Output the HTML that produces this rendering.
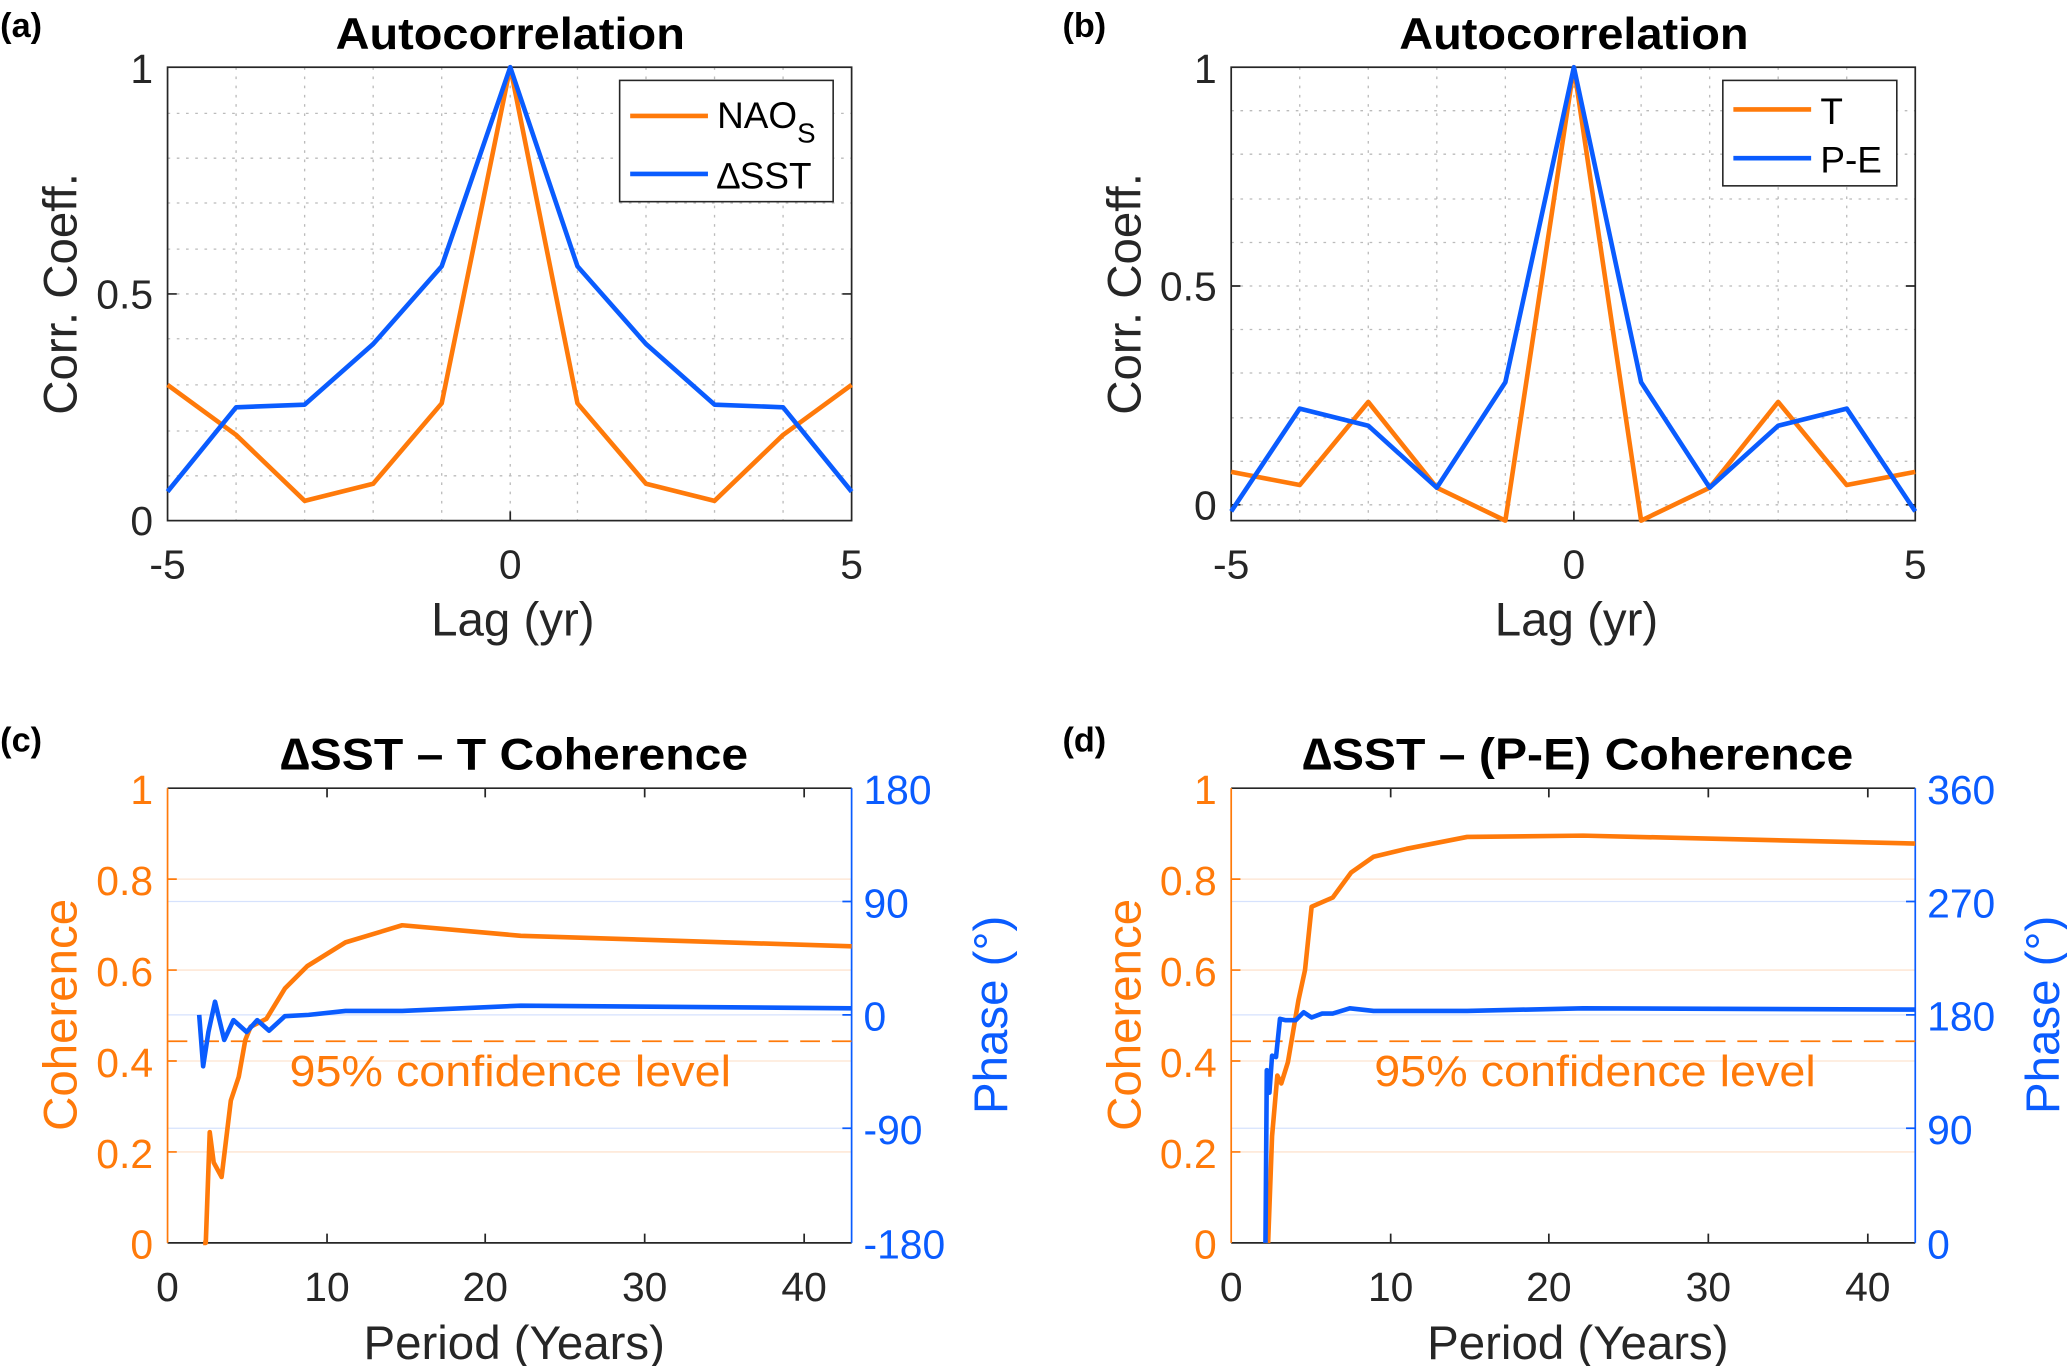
<!DOCTYPE html>
<html><head><meta charset="utf-8"><style>html,body{margin:0;padding:0;background:#fff}svg{display:block}</style></head>
<body>
<svg width="2067" height="1366" viewBox="0 0 1568 1036.4" xmlns="http://www.w3.org/2000/svg" font-family="Liberation Sans, Arial, sans-serif">
<rect width="1568" height="1037" fill="#fff"/>
<!-- ===== Panel (a) ===== -->
<text x="0" y="28" font-size="26" font-weight="bold">(a)</text>
<text x="387" y="37" font-size="34" font-weight="bold" text-anchor="middle" textLength="265" lengthAdjust="spacingAndGlyphs">Autocorrelation</text>
<g stroke="#bbb" stroke-width="1" stroke-dasharray="2,5">
<path d="M179 51V395M231 51V395M283 51V395M335 51V395M387 51V395M438 51V395M490 51V395M542 51V395M594 51V395"/>
<path d="M127 361H646M127 327H646M127 292H646M127 257H646M127 223H646M127 189H646M127 154H646M127 120H646M127 86H646"/>
</g>
<rect x="127" y="51" width="519" height="344" fill="none" stroke="#262626" stroke-width="1.3"/>
<path d="M387 395v-7M387 51v7M127 223h7M646 223h-7" stroke="#262626" stroke-width="1.3"/>
<g font-size="31" fill="#262626">
<text x="127" y="439" text-anchor="middle">-5</text><text x="387" y="439" text-anchor="middle">0</text><text x="646" y="439" text-anchor="middle">5</text>
<text x="116" y="63" text-anchor="end">1</text><text x="116" y="234" text-anchor="end">0.5</text><text x="116" y="406" text-anchor="end">0</text>
</g>
<text x="389" y="482" font-size="36" fill="#262626" text-anchor="middle">Lag (yr)</text>
<text transform="translate(58,223) rotate(-90)" font-size="36" fill="#262626" text-anchor="middle">Corr. Coeff.</text>
<polyline fill="none" stroke="#FF7A0A" stroke-width="3.5" stroke-linejoin="round" points="127,292 179,330 231,380 283,367 335,306 387,51 438,306 490,367 542,380 594,330 646,292"/>
<polyline fill="none" stroke="#0A5CFF" stroke-width="3.5" stroke-linejoin="round" points="127,373 179,309 231,307 283,261 335,202 387,51 438,202 490,261 542,307 594,309 646,373"/>
<rect x="470" y="61" width="162" height="92" fill="#fff" stroke="#262626" stroke-width="1.2"/>
<path d="M478 88h59" stroke="#FF7A0A" stroke-width="3.5"/><path d="M478 132h59" stroke="#0A5CFF" stroke-width="3.5"/>
<text x="544" y="97" font-size="28">NAO<tspan font-size="21" dy="11">S</tspan></text>
<text x="544" y="143" font-size="28">∆SST</text>

<!-- ===== Panel (b) ===== -->
<text x="806" y="28" font-size="26" font-weight="bold">(b)</text>
<text x="1194" y="37" font-size="34" font-weight="bold" text-anchor="middle" textLength="265" lengthAdjust="spacingAndGlyphs">Autocorrelation</text>
<g stroke="#bbb" stroke-width="1" stroke-dasharray="2,5">
<path d="M986 51V395M1038 51V395M1090 51V395M1142 51V395M1194 51V395M1245 51V395M1297 51V395M1349 51V395M1401 51V395"/>
<path d="M934 383H1453M934 350H1453M934 317H1453M934 283H1453M934 250H1453M934 217H1453M934 184H1453M934 151H1453M934 117H1453M934 84H1453"/>
</g>
<rect x="934" y="51" width="519" height="344" fill="none" stroke="#262626" stroke-width="1.3"/>
<path d="M1194 395v-7M1194 51v7M934 217h7M1453 217h-7M934 383h7M1453 383h-7" stroke="#262626" stroke-width="1.3"/>
<g font-size="31" fill="#262626">
<text x="934" y="439" text-anchor="middle">-5</text><text x="1194" y="439" text-anchor="middle">0</text><text x="1453" y="439" text-anchor="middle">5</text>
<text x="923" y="63" text-anchor="end">1</text><text x="923" y="228" text-anchor="end">0.5</text><text x="923" y="394" text-anchor="end">0</text>
</g>
<text x="1196" y="482" font-size="36" fill="#262626" text-anchor="middle">Lag (yr)</text>
<text transform="translate(865,223) rotate(-90)" font-size="36" fill="#262626" text-anchor="middle">Corr. Coeff.</text>
<polyline fill="none" stroke="#FF7A0A" stroke-width="3.5" stroke-linejoin="round" points="934,358 986,368 1038,305 1090,370 1142,395 1194,51 1245,395 1297,370 1349,305 1401,368 1453,358"/>
<polyline fill="none" stroke="#0A5CFF" stroke-width="3.5" stroke-linejoin="round" points="934,388 986,310 1038,323 1090,370 1142,290 1194,51 1245,290 1297,370 1349,323 1401,310 1453,388"/>
<rect x="1307" y="61" width="132" height="80" fill="#fff" stroke="#262626" stroke-width="1.2"/>
<path d="M1315 83h59" stroke="#FF7A0A" stroke-width="3.5"/><path d="M1315 120h59" stroke="#0A5CFF" stroke-width="3.5"/>
<text x="1381" y="94" font-size="28">T</text>
<text x="1381" y="131" font-size="28">P-E</text>

<!-- ===== Panel (c) ===== -->
<text x="0" y="570" font-size="26" font-weight="bold">(c)</text>
<text x="390" y="584" font-size="34" font-weight="bold" text-anchor="middle" textLength="355" lengthAdjust="spacingAndGlyphs">∆SST – T Coherence</text>
<g stroke-width="1">
<path d="M127 667H646M127 736H646M127 805H646M127 874H646" stroke="#FDE3CF"/>
<path d="M127 684H646M127 770H646M127 856H646" stroke="#D6E2FD"/>
</g>
<path d="M127 598H646" stroke="#262626" stroke-width="1.3"/>
<path d="M127 943H646" stroke="#262626" stroke-width="1.3"/>
<path d="M127 598V943" stroke="#FF7A0A" stroke-width="1.3"/>
<path d="M646 598V943" stroke="#0A5CFF" stroke-width="1.3"/>
<path d="M248 943v-7M368 943v-7M489 943v-7M610 943v-7M248 598v7M368 598v7M489 598v7M610 598v7" stroke="#262626" stroke-width="1.3"/>
<path d="M127 667h7M127 736h7M127 805h7M127 874h7" stroke="#FF7A0A" stroke-width="1.3"/>
<path d="M646 684h-7M646 770h-7M646 856h-7" stroke="#0A5CFF" stroke-width="1.3"/>
<g font-size="31" fill="#262626" text-anchor="middle">
<text x="127" y="987">0</text><text x="248" y="987">10</text><text x="368" y="987">20</text><text x="489" y="987">30</text><text x="610" y="987">40</text>
</g>
<g font-size="31" fill="#FF7A0A" text-anchor="end">
<text x="116" y="610">1</text><text x="116" y="679">0.8</text><text x="116" y="748">0.6</text><text x="116" y="817">0.4</text><text x="116" y="886">0.2</text><text x="116" y="955">0</text>
</g>
<g font-size="31" fill="#0A5CFF">
<text x="655" y="610">180</text><text x="655" y="696">90</text><text x="655" y="782">0</text><text x="655" y="868">-90</text><text x="655" y="955">-180</text>
</g>
<text x="390" y="1031" font-size="36" fill="#262626" text-anchor="middle">Period (Years)</text>
<text transform="translate(58,770) rotate(-90)" font-size="36" fill="#FF7A0A" text-anchor="middle">Coherence</text>
<text transform="translate(764,770) rotate(-90)" font-size="36" fill="#0A5CFF" text-anchor="middle">Phase (°)</text>
<path d="M127 790H646" stroke="#FF7A0A" stroke-width="1.3" stroke-dasharray="15,9"/>
<text x="387" y="824" font-size="33" fill="#FF7A0A" text-anchor="middle" textLength="335" lengthAdjust="spacingAndGlyphs">95% confidence level</text>
<polyline fill="none" stroke="#FF7A0A" stroke-width="3.5" stroke-linejoin="round" points="154,943 156,943 159,859 162,882 168,893 175,835 181,817 186,789 190,779 202,773 216,750 233,733 262,715 305,702 395,710 646,718"/>
<polyline fill="none" stroke="#0A5CFF" stroke-width="3.5" stroke-linejoin="round" points="151,770 154,809 158,783 163,760 170,789 177,774 187,783 195,774 204,782 216,771 234,770 262,767 305,767 395,763 646,765"/>

<!-- ===== Panel (d) ===== -->
<text x="806" y="570" font-size="26" font-weight="bold">(d)</text>
<text x="1197" y="584" font-size="34" font-weight="bold" text-anchor="middle" textLength="418" lengthAdjust="spacingAndGlyphs">∆SST – (P-E) Coherence</text>
<g stroke-width="1">
<path d="M934 667H1453M934 736H1453M934 805H1453M934 874H1453" stroke="#FDE3CF"/>
<path d="M934 684H1453M934 770H1453M934 856H1453" stroke="#D6E2FD"/>
</g>
<path d="M934 598H1453" stroke="#262626" stroke-width="1.3"/>
<path d="M934 943H1453" stroke="#262626" stroke-width="1.3"/>
<path d="M934 598V943" stroke="#FF7A0A" stroke-width="1.3"/>
<path d="M1453 598V943" stroke="#0A5CFF" stroke-width="1.3"/>
<path d="M1055 943v-7M1175 943v-7M1296 943v-7M1417 943v-7M1055 598v7M1175 598v7M1296 598v7M1417 598v7" stroke="#262626" stroke-width="1.3"/>
<path d="M934 667h7M934 736h7M934 805h7M934 874h7" stroke="#FF7A0A" stroke-width="1.3"/>
<path d="M1453 684h-7M1453 770h-7M1453 856h-7" stroke="#0A5CFF" stroke-width="1.3"/>
<g font-size="31" fill="#262626" text-anchor="middle">
<text x="934" y="987">0</text><text x="1055" y="987">10</text><text x="1175" y="987">20</text><text x="1296" y="987">30</text><text x="1417" y="987">40</text>
</g>
<g font-size="31" fill="#FF7A0A" text-anchor="end">
<text x="923" y="610">1</text><text x="923" y="679">0.8</text><text x="923" y="748">0.6</text><text x="923" y="817">0.4</text><text x="923" y="886">0.2</text><text x="923" y="955">0</text>
</g>
<g font-size="31" fill="#0A5CFF">
<text x="1462" y="610">360</text><text x="1462" y="696">270</text><text x="1462" y="782">180</text><text x="1462" y="868">90</text><text x="1462" y="955">0</text>
</g>
<text x="1197" y="1031" font-size="36" fill="#262626" text-anchor="middle">Period (Years)</text>
<text transform="translate(865,770) rotate(-90)" font-size="36" fill="#FF7A0A" text-anchor="middle">Coherence</text>
<text transform="translate(1562,770) rotate(-90)" font-size="36" fill="#0A5CFF" text-anchor="middle">Phase (°)</text>
<path d="M934 790H1453" stroke="#FF7A0A" stroke-width="1.3" stroke-dasharray="15,9"/>
<text x="1210" y="824" font-size="33" fill="#FF7A0A" text-anchor="middle" textLength="335" lengthAdjust="spacingAndGlyphs">95% confidence level</text>
<polyline fill="none" stroke="#FF7A0A" stroke-width="3.5" stroke-linejoin="round" points="962,943 965,862 969,816 972,822 977,806 985,759 990,736 995,688 1011,681 1025,662 1042,650 1067,644 1113,635 1201,634 1453,640"/>
<polyline fill="none" stroke="#0A5CFF" stroke-width="3.5" stroke-linejoin="round" points="960,943 961,812 963,829 965,801 968,802 971,773 975,774 983,774 989,768 995,772 1003,769 1011,769 1024,765 1042,767 1113,767 1201,765 1453,766"/>
</svg>
</body></html>
